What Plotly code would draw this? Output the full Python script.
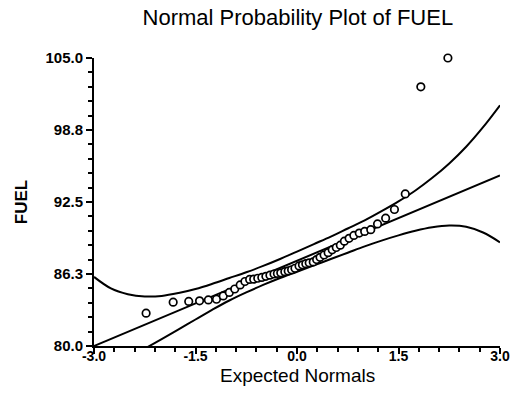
import plotly.graph_objects as go

expected_normals = [-2.23, -1.83, -1.60, -1.44, -1.31, -1.19, -1.09, -1.00, -0.92, -0.84,
                    -0.77, -0.70, -0.64, -0.58, -0.52, -0.46, -0.40, -0.34, -0.29, -0.24,
                    -0.18, -0.13, -0.08, -0.03, 0.03, 0.08, 0.13, 0.18, 0.24, 0.29,
                    0.34, 0.40, 0.46, 0.52, 0.58, 0.64, 0.70, 0.77, 0.84, 0.92,
                    1.00, 1.09, 1.19, 1.31, 1.44, 1.60, 1.83, 2.23]
fuel = [82.85, 83.80, 83.87, 83.92, 84.00, 84.06, 84.35, 84.65, 84.95, 85.30,
        85.60, 85.78, 85.80, 85.88, 85.95, 86.05, 86.15, 86.25, 86.30, 86.35,
        86.45, 86.52, 86.62, 86.75, 86.95, 87.05, 87.15, 87.22, 87.30, 87.50,
        87.70, 87.90, 88.10, 88.35, 88.55, 88.75, 89.10, 89.35, 89.60, 89.80,
        89.95, 90.10, 90.60, 91.10, 91.85, 93.20, 102.50, 105.00]

# Reference line
fit_x = [-3.0, 3.0]
fit_y = [80.0, 94.8]

# Upper confidence band
upper_x = [-3.0, -2.75, -2.5, -2.25, -2.0, -1.75, -1.5, -1.25, -1.0, -0.75, -0.5, -0.25,
           0.0, 0.25, 0.5, 0.75, 1.0, 1.25, 1.5, 1.75, 2.0, 2.25, 2.5, 2.75, 3.0]
upper_y = [86.0, 85.0, 84.5, 84.3, 84.35, 84.6, 84.95, 85.4, 85.9, 86.4, 86.95, 87.55,
           88.2, 88.85, 89.5, 90.2, 90.9, 91.7, 92.55, 93.5, 94.6, 95.85, 97.3, 99.0, 100.9]

# Lower confidence band
lower_x = [-2.3, -2.0, -1.75, -1.5, -1.25, -1.0, -0.75, -0.5, -0.25, 0.0, 0.25, 0.5, 0.75,
           1.0, 1.25, 1.5, 1.75, 2.0, 2.25, 2.5, 2.75, 3.0]
lower_y = [79.6, 80.6, 81.45, 82.3, 83.15, 83.95, 84.65, 85.3, 85.9, 86.45, 87.0, 87.55, 88.1,
           88.65, 89.15, 89.6, 90.0, 90.3, 90.45, 90.35, 89.85, 89.0]

x_ticks = [-3.0, -1.5, 0.0, 1.5, 3.0]
x_tick_text = ["-3.0", "-1.5", "0.0", "1.5", "3.0"]
y_ticks = [80.0, 86.25, 92.5, 98.75, 105.0]
y_tick_text = ["80.0", "86.3", "92.5", "98.8", "105.0"]

FONT = "Liberation Sans, Arial, sans-serif"

fig = go.Figure()
line_style = dict(color="black", width=2)
fig.add_trace(go.Scatter(x=upper_x, y=upper_y, mode="lines", line=dict(shape="spline", **line_style),
                         showlegend=False, hoverinfo="skip"))
fig.add_trace(go.Scatter(x=lower_x, y=lower_y, mode="lines", line=dict(shape="spline", **line_style),
                         showlegend=False, hoverinfo="skip"))
fig.add_trace(go.Scatter(x=fit_x, y=fit_y, mode="lines", line=line_style,
                         showlegend=False, hoverinfo="skip"))
fig.add_trace(go.Scatter(x=expected_normals, y=fuel, mode="markers",
                         marker=dict(symbol="circle", size=7.5, color="white",
                                     line=dict(color="black", width=1.7)),
                         showlegend=False, cliponaxis=False))

axis_common = dict(
    showgrid=False, zeroline=False, showline=True, linecolor="black", linewidth=2,
    ticks="outside", ticklen=6, tickwidth=2, tickcolor="black",
    minor=dict(ticks="outside", ticklen=4, tickwidth=1.5, tickcolor="black"),
)

fig.update_xaxes(range=[-3.0, 3.0], tickvals=x_ticks, ticktext=x_tick_text,
                 minor_dtick=0.3, minor_tick0=-3.0, ticklabelstandoff=-10,
                 tickfont=dict(family=FONT, size=14, color="black", weight="bold"),
                 **axis_common)
fig.update_yaxes(range=[80.0, 105.0], tickvals=y_ticks, ticktext=y_tick_text,
                 minor_dtick=1.25, minor_tick0=80.0,
                 tickfont=dict(family=FONT, size=15, color="black", weight="bold"),
                 title=dict(text="FUEL", font=dict(family=FONT, size=17, color="black", weight="bold"),
                            standoff=14),
                 **axis_common)

fig.add_annotation(text="Expected Normals", xref="paper", yref="paper", x=0.5, y=-29 / 288,
                   xanchor="center", yanchor="middle", showarrow=False,
                   font=dict(family=FONT, size=19, color="black"))

fig.update_layout(
    width=518, height=395,
    margin=dict(l=94, r=18, t=58, b=49, autoexpand=False),
    paper_bgcolor="white", plot_bgcolor="white",
    title=dict(text="Normal Probability Plot of FUEL", x=0.575, xanchor="center",
               y=1 - 17 / 395, yanchor="middle", yref="container",
               font=dict(family=FONT, size=22, color="black")),
)

fig.write_html("out.html")
